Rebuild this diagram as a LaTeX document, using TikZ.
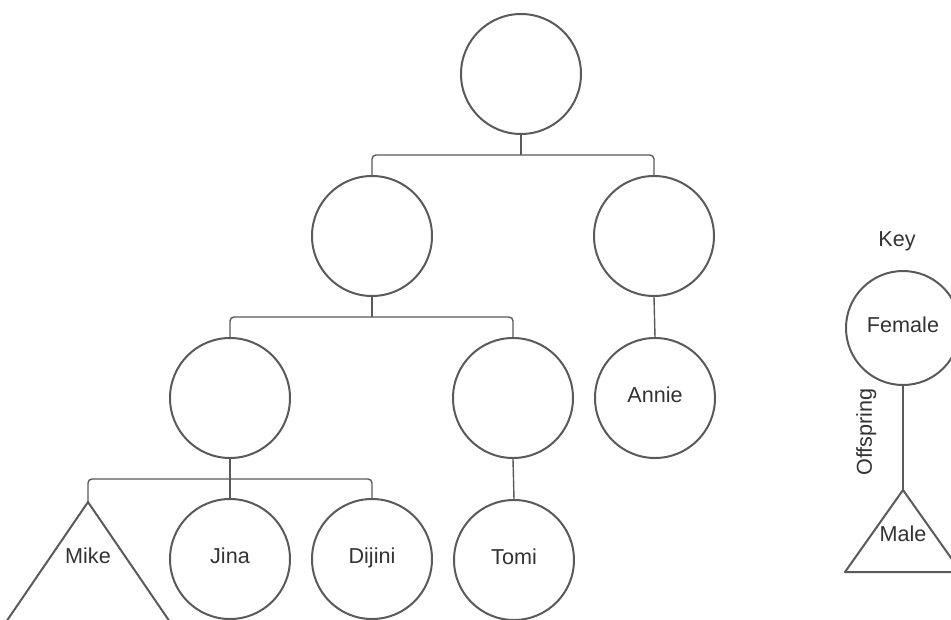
\documentclass[tikz,border=0pt]{standalone}
\usepackage{fontspec}
\setmainfont{Liberation Sans}
\definecolor{strk}{HTML}{5A5A5A}
\definecolor{txt}{HTML}{333333}
\begin{document}
\begin{tikzpicture}[x=1pt,y=-1pt,
  person/.style={circle,draw=strk,line width=2pt,minimum size=120pt,inner sep=0pt,text=txt,font=\fontsize{21.6}{24}\selectfont,text height=14pt,text depth=4.5pt},
  keyperson/.style={person,minimum size=114pt},
  lbl/.style={text=txt,font=\fontsize{21.6}{24}\selectfont,inner sep=0pt,text height=14pt,text depth=4.5pt},
  tri/.style={draw=strk,line width=2pt,line join=round},
  link/.style={draw=strk,line width=1.4pt},
  bus/.style={link,rounded corners=4pt}]
\useasboundingbox (0,0) rectangle (951,619);
\clip (0,0) rectangle (951,619);
\fill[white] (0,0) rectangle (951,619);
% people
\node[person] (root) at (521,74) {};
\node[person] (a) at (372,236) {};
\node[person] (b) at (654,236) {};
\node[person] (c) at (230,398) {};
\node[person] (d) at (513,398) {};
\node[person] (annie) at (655,398) {Annie};
\node[person] (jina) at (230,559) {Jina};
\node[person] (dijini) at (372,559) {Dijini};
\node[person] (tomi) at (514,560) {Tomi};
% Mike (male triangle)
\coordinate (mike) at (88,502);
\draw[tri] (mike) -- (88-123,682) -- (88+123,682) -- cycle;
\node[lbl] (mikelbl) at (88,559) {Mike};
% bus lines
\coordinate (bar1) at (0,155);
\coordinate (bar2) at (0,317);
\coordinate (bar3) at (0,479);
\draw[link] (root.south) -- (root.south |- bar1);
\draw[bus] (a.north) -- (a.north |- bar1) -- (b.north |- bar1) -- (b.north);
\draw[link] (a.south) -- (a.south |- bar2);
\draw[bus] (c.north) -- (c.north |- bar2) -- (d.north |- bar2) -- (d.north);
\draw[link] (b.south) -- (annie.north);
\draw[link] (c.south) -- (jina.north);
\draw[bus] (mike) -- (mike |- bar3) -- (dijini.north |- bar3) -- (dijini.north);
\draw[link] (d.south) -- (tomi.north);
% key
\node[lbl] (key) at (897,242) {Key};
\node[keyperson] (female) at (903,328) {Female};
\coordinate (male) at (903,490);
\draw[tri] (male) -- (903-58,572) -- (903+58,572) -- cycle;
\node[lbl] (malelbl) at (903,537) {Male};
\draw[link] (female.south) -- (male);
\node[lbl,rotate=90] (offspring) at (867,432) {Offspring};
\end{tikzpicture}
\end{document}
